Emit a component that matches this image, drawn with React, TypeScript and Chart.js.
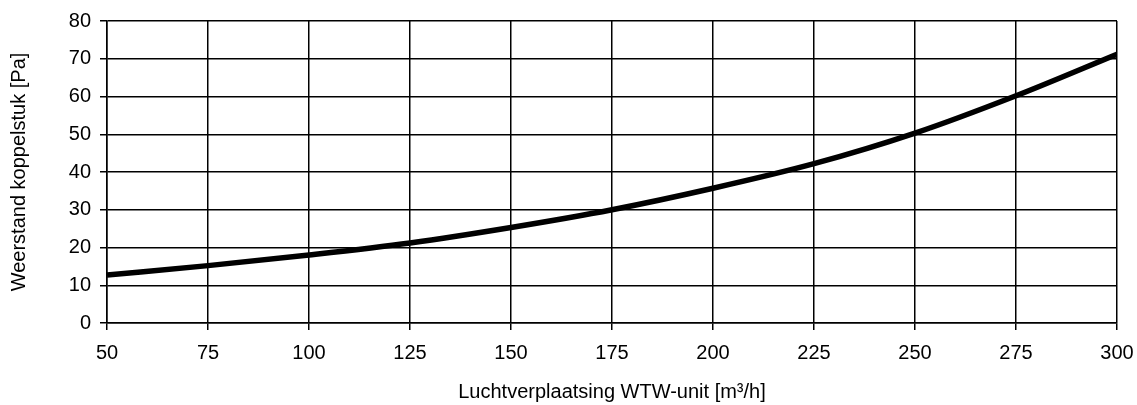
import React, { useEffect, useRef } from "react";
import { Chart, registerables } from "chart.js";

Chart.register(...registerables);

const airflow = [50, 75, 100, 125, 150, 175, 200, 225, 250, 275, 300];
const resistance = [12.7, 15.2, 18.0, 21.2, 25.3, 30.0, 35.7, 42.2, 50.3, 60.2, 71.2];
const xTitle = "Luchtverplaatsing WTW-unit [m³/h]";
const yTitle = "Weerstand koppelstuk [Pa]";

const FONT = "'Liberation Sans', Arial, sans-serif";

export default function App() {
  const ref = useRef<HTMLCanvasElement | null>(null);
  useEffect(() => {
    if (!ref.current) return;
    const chart = new Chart(ref.current, {
      type: "line",
      data: {
        datasets: [
          {
            data: airflow.map((x, i) => ({ x, y: resistance[i] })),
            borderColor: "#000",
            borderWidth: 5.5,
            pointRadius: 0,
            cubicInterpolationMode: "monotone",
            fill: false,
          },
        ],
      },
      options: {
        animation: false,
        responsive: false,
        maintainAspectRatio: false,
        layout: { padding: { top: 20, right: 20, left: 0, bottom: 0 } },
        plugins: { legend: { display: false }, tooltip: { enabled: false } },
        scales: {
          x: {
            type: "linear",
            min: 50,
            max: 300,
            afterFit: (s: any) => {
              s.height = 82;
              s.paddingRight = 0;
              s.paddingLeft = 0;
            },
            ticks: {
              stepSize: 25,
              color: "#000",
              font: { family: FONT, size: 20 },
              padding: 11,
              maxRotation: 0,
            },
            grid: { color: "#000", lineWidth: 1.5, tickLength: 7 },
            border: { color: "#000", width: 1.5 },
            title: {
              display: true,
              text: xTitle,
              color: "#000",
              font: { family: FONT, size: 20 },
              padding: { top: 0, bottom: 1 },
            },
          },
          y: {
            min: 0,
            max: 80,
            afterFit: (s: any) => {
              s.width = 107;
            },
            ticks: {
              stepSize: 10,
              color: "#000",
              font: { family: FONT, size: 20 },
              padding: 9,
            },
            grid: { color: "#000", lineWidth: 1.5, tickLength: 7 },
            border: { color: "#000", width: 1.5 },
            title: {
              display: true,
              text: yTitle,
              color: "#000",
              font: { family: FONT, size: 20 },
              padding: { top: 7, bottom: 0 },
            },
          },
        },
      },
    });
    return () => chart.destroy();
  }, []);
  return (
    <div style={{ position: "absolute", left: 0, top: 0, width: 1137, height: 405, background: "#fff" }}>
      <canvas ref={ref} width={1137} height={405} style={{ width: 1137, height: 405 }} />
    </div>
  );
}
